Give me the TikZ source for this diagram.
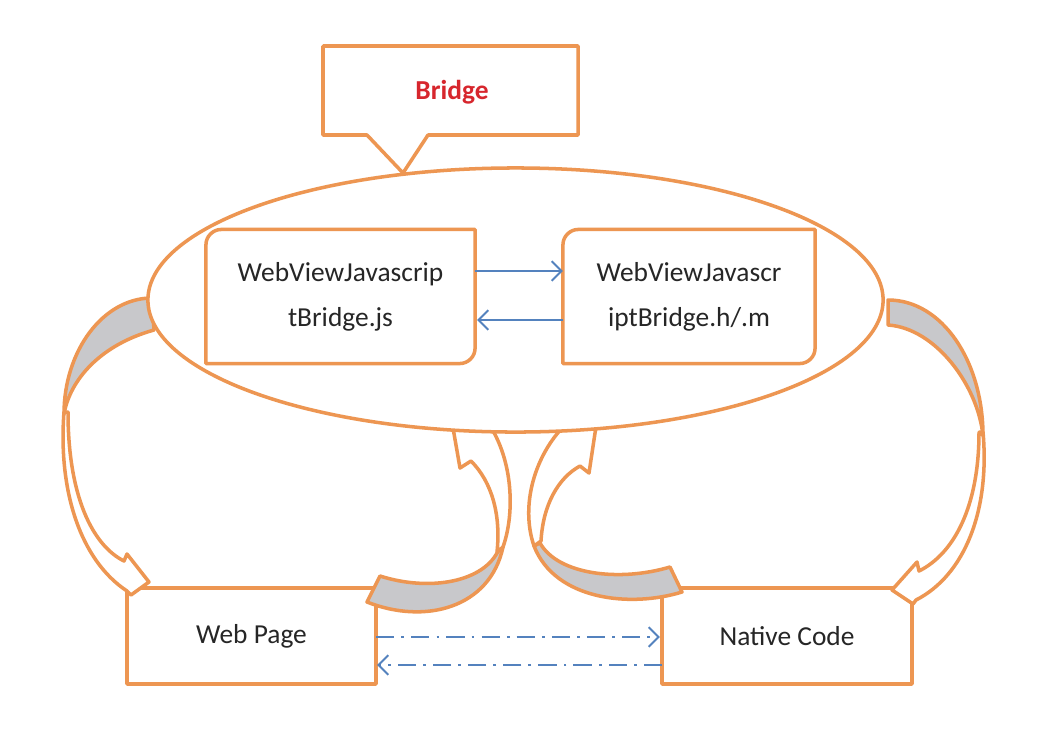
\documentclass[tikz,border=0pt]{standalone}
\usepackage{fontspec}
\setmainfont{Carlito}
\usetikzlibrary{arrows.meta,calc,shapes.geometric}
\definecolor{orng}{RGB}{237,150,82}
\definecolor{grayfill}{RGB}{200,200,203}
\definecolor{blu}{RGB}{84,130,190}
\definecolor{redtxt}{RGB}{215,38,45}
\definecolor{txt}{RGB}{38,38,38}
\begin{document}
\begin{tikzpicture}[x=0.025cm,y=-0.025cm,
  ol/.style={draw=orng,line width=2.5pt,line join=round},
  outerbox/.style={ol,fill=white,rectangle,inner sep=0pt,outer sep=0pt,text=txt,
    font=\fontsize{19.5}{32}\selectfont},
  innerbox/.style={draw=none,rectangle,inner sep=0pt,outer sep=0pt,align=center,text=txt,
    font=\fontsize{19.5}{32}\selectfont},
  arrowbody/.style={ol,fill=white},
  arrowgray/.style={ol,fill=grayfill},
  bluearr/.style={draw=blu,line width=1.4pt,-{Straight Barb[length=7pt,width=14pt,line width=1.4pt]}},
  dd/.style={draw=blu,line width=1.4pt,dash pattern=on 13pt off 5pt on 2pt off 5pt,
    -{Straight Barb[length=7pt,width=14pt,line width=1.4pt]}}
]
\path[use as bounding box,fill=white] (0,0) rectangle (1050,738);

% bottom boxes
\node[outerbox,minimum width=6.225cm,minimum height=2.4cm] (wp) at (251.5,636) {Web Page};
\node[outerbox,minimum width=6.25cm,minimum height=2.4cm] (nc) at (787,636) {Native Code};

% left big curved arrow
\path[arrowbody] (64,412) .. controls (58,490) and (80,560) .. (127,591) -- (131,595) -- (149,582)
  -- (127,554) -- (124,561) .. controls (92,545) and (68,495) .. (68,412) -- cycle;
\path[arrowgray] (152,298) .. controls (103,298) and (64,351) .. (64,414)
  .. controls (70,380) and (100,345) .. (154,330) -- cycle;

% right big curved arrow
\path[arrowbody] (983,432) .. controls (990,510) and (965,575) .. (916,600) -- (913,604) -- (892,590)
  -- (917,562) -- (919,571) .. controls (955,553) and (979,505) .. (979,432) -- cycle;
\path[arrowgray] (888,300) .. controls (942,300) and (983,361) .. (983,436)
  .. controls (978,385) and (935,328) .. (888,325) -- cycle;

% middle-left curved arrow (Web Page -> Bridge)
\path[arrowgray] (380,576) .. controls (430,592) and (485,582) .. (499,549) -- (503,547)
  .. controls (490,608) and (425,625) .. (367,602) -- cycle;
\path[arrowbody] (497,552) .. controls (501,515) and (492,482) .. (471,461) -- (460,468) -- (449,405)
  -- (500,405) -- (486,420) .. controls (512,455) and (516,510) .. (503,547) -- cycle;

% middle-right curved arrow (Native Code -> Bridge)
\path[arrowgray] (670,567) .. controls (620,582) and (558,575) .. (540,543) -- (534,546)
  .. controls (555,600) and (630,608) .. (682,592) -- cycle;
\path[arrowbody] (534,546) .. controls (520,505) and (535,455) .. (565,425) -- (548,410) -- (600,400)
  -- (589,473) -- (580,466) .. controls (558,478) and (543,505) .. (541,541) -- cycle;

% bridge ellipse
\node[ellipse,ol,fill=white,minimum width=18.375cm,minimum height=6.6cm,inner sep=0pt] (ell) at (515.5,300) {};

% callout
\path[ol,fill=white] (323,46) -- (578,46) -- (578,135) -- (428,135) -- (403,173) -- (367,135) -- (323,135) -- cycle;
\node[text=redtxt,font=\fontsize{19.5}{32}\selectfont\bfseries] (bridge) at (452,92) {Bridge};

% inner boxes
\node[innerbox,minimum width=6.725cm,minimum height=3.35cm] (js) at (340.5,296.5) {WebViewJavascrip\\tBridge.js};
\node[innerbox,minimum width=6.3cm,minimum height=3.35cm] (ipt) at (689,296.5) {WebViewJavascr\\iptBridge.h/.m};
\foreach \n in {js,ipt}{
  \draw[ol] (\n.south west) -- ($(\n.north west)+(0,15)$)
    .. controls ($(\n.north west)+(0,7)$) and ($(\n.north west)+(7,0)$) .. ($(\n.north west)+(15,0)$)
    -- (\n.north east) -- ($(\n.south east)+(0,-15)$)
    .. controls ($(\n.south east)+(0,-7)$) and ($(\n.south east)+(-7,0)$) .. ($(\n.south east)+(-15,0)$)
    -- cycle;
}

% blue arrows inside the bridge
\draw[bluearr] ($(js.east)+(0,-25.5)$) -- ($(ipt.west)+(0,-25.5)$);
\draw[bluearr] ($(ipt.west)+(0,23.5)$) -- ($(js.east)+(2,23.5)$);

% dash-dot arrows between Web Page and Native Code
\draw[dd] ($(wp.east)+(0,1)$) -- ($(nc.west)+(-2,1)$);
\draw[dd] ($(nc.west)+(0,29)$) -- ($(wp.east)+(1,29)$);
\end{tikzpicture}
\end{document}
